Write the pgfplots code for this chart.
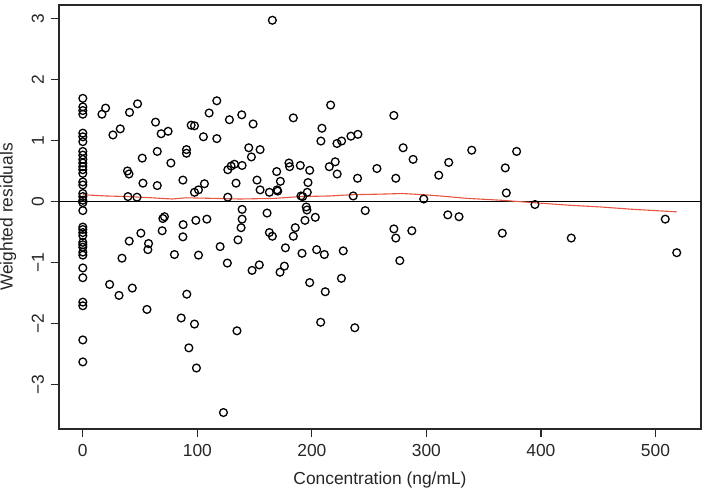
\documentclass[border=0pt]{standalone}
\usepackage{fontspec}
\setmainfont{Liberation Sans}
\usepackage{pgfplots}
\usepackage{pgfplotstable}
\pgfplotsset{compat=1.18}
\definecolor{loess}{RGB}{230,85,65}
\definecolor{axisgray}{RGB}{40,40,40}

% weighted residuals vs concentration
\pgfplotstableread{
x y
0 1.69
0 1.55
0 1.49
0 1.43
0 1.12
0 1.06
0 0.98
0 0.82
0 0.76
0 0.69
0 0.63
0 0.57
0 0.52
0 0.46
0 0.32
0 0.27
0 0.13
0 0.08
0 0.02
0 -0.02
0 -0.15
0 -0.42
0 -0.46
0 -0.51
0 -0.56
0 -0.67
0 -0.71
0 -0.75
0 -0.83
0 -0.88
0 -1.09
0 -1.25
0 -1.65
0 -1.71
0 -2.27
0 -2.63
16.7 1.43
19.9 1.53
26.3 1.09
32.7 1.19
40.8 1.46
47.8 1.60
39.0 0.50
40.3 0.45
51.9 0.71
52.5 0.30
65.0 0.26
39.4 0.08
47.3 0.07
63.5 1.30
68.4 1.11
74.5 1.15
65.0 0.82
76.9 0.63
87.4 0.35
90.5 0.85
90.5 0.79
94.6 1.25
97.5 1.24
105.3 1.06
110.3 1.45
117.0 1.65
117.0 1.03
97.5 0.15
101.0 0.19
106.2 0.29
128.0 1.34
126.6 0.52
129.5 0.58
132.4 0.61
133.8 0.30
126.6 0.07
138.8 1.42
139.1 0.59
69.9 -0.28
71.3 -0.25
69.3 -0.48
87.6 -0.38
87.4 -0.58
98.7 -0.31
108.3 -0.29
50.7 -0.52
40.5 -0.65
57.4 -0.69
56.8 -0.79
34.2 -0.93
80.0 -0.87
101.0 -0.88
119.9 -0.74
126.2 -1.01
135.5 -0.63
23.4 -1.36
31.6 -1.54
43.2 -1.42
56.0 -1.77
90.8 -1.52
85.9 -1.91
97.5 -2.01
134.6 -2.12
92.6 -2.40
99.2 -2.73
122.8 -3.46
165.5 2.97
148.7 1.27
183.8 1.37
216.4 1.58
271.6 1.41
144.9 0.88
154.8 0.85
147.2 0.73
207.9 0.99
208.8 1.20
221.9 0.95
226.0 0.99
234.1 1.07
240.2 1.10
279.7 0.88
152.1 0.35
172.5 0.33
169.3 0.49
180.0 0.63
180.6 0.57
189.9 0.59
198.1 0.51
196.6 0.31
196.0 0.15
215.2 0.57
220.4 0.65
222.1 0.45
239.9 0.38
256.8 0.54
273.3 0.38
288.4 0.69
154.8 0.19
162.9 0.15
169.6 0.19
170.2 0.17
190.5 0.09
192.0 0.08
236.1 0.09
139.1 -0.13
139.1 -0.29
138.2 -0.43
160.9 -0.19
195.1 -0.09
195.7 -0.14
194.0 -0.31
203.0 -0.26
246.6 -0.15
162.9 -0.51
165.5 -0.57
185.5 -0.43
183.8 -0.57
176.9 -0.76
191.4 -0.85
204.2 -0.79
210.9 -0.87
227.4 -0.81
271.6 -0.45
273.3 -0.60
287.3 -0.48
276.8 -0.97
147.8 -1.13
154.1 -1.04
172.2 -1.16
176.0 -1.06
198.1 -1.33
225.8 -1.26
211.7 -1.48
207.7 -1.98
237.5 -2.07
339.6 0.84
319.5 0.64
310.8 0.43
378.8 0.82
368.9 0.55
369.8 0.14
297.7 0.04
394.8 -0.05
318.7 -0.22
328.5 -0.25
508.6 -0.29
366.3 -0.52
426.5 -0.60
518.6 -0.84
}\resid

% smoother through the residuals
\pgfplotstableread{
x y
0 0.11
10 0.10
20 0.09
40 0.08
60 0.06
78 0.04
90 0.06
115 0.05
137 0.04
167 0.05
190 0.08
216 0.09
234 0.11
260 0.12
279 0.13
298 0.11
312 0.09
336 0.05
365 0.02
394 -0.02
423 -0.06
452 -0.09
481 -0.13
518.6 -0.17
}\smooth

\begin{document}
\begin{tikzpicture}
\begin{axis}[
  scale only axis, width=321pt, height=212pt,
  xmin=-20.8, xmax=539.8, ymin=-3.73, ymax=3.22,
  axis line style={line width=0.6pt, axisgray},
  xtick={0,100,...,500},
  ytick={-3,-2,-1,0,1,2,3},
  yticklabels={−3,−2,−1,0,1,2,3},
  tick pos=left, tick align=outside, major tick length=4pt,
  tick style={line width=0.6pt, axisgray},
  /pgf/number format/assume math mode=true,
  tick label style={font=\fontsize{8.7}{10}\selectfont, text=black!85},
  yticklabel style={rotate=90, anchor=south},
  label style={font=\fontsize{8.7}{10}\selectfont, text=black!85},
  xlabel={Concentration (ng/mL)},
  ylabel={Weighted residuals},
  xlabel style={at={(axis description cs:0.5,-0.1203)}, anchor=center},
  ylabel style={at={(axis description cs:-0.0794,0.5)}, anchor=center},
  clip=false,
]
\addplot[only marks, mark=o, mark size=1.95pt, mark options={line width=0.65pt, black}] table {\resid};
\addplot[black, line width=0.5pt] coordinates {(-20.8,0) (539.8,0)};
\addplot[loess, line width=0.55pt] table {\smooth};
\end{axis}
\pgfresetboundingbox
\path ([xshift=-29.5pt,yshift=-30.5pt]current axis.south west) rectangle ([xshift=2.5pt,yshift=2.5pt]current axis.north east);
\end{tikzpicture}
\end{document}
